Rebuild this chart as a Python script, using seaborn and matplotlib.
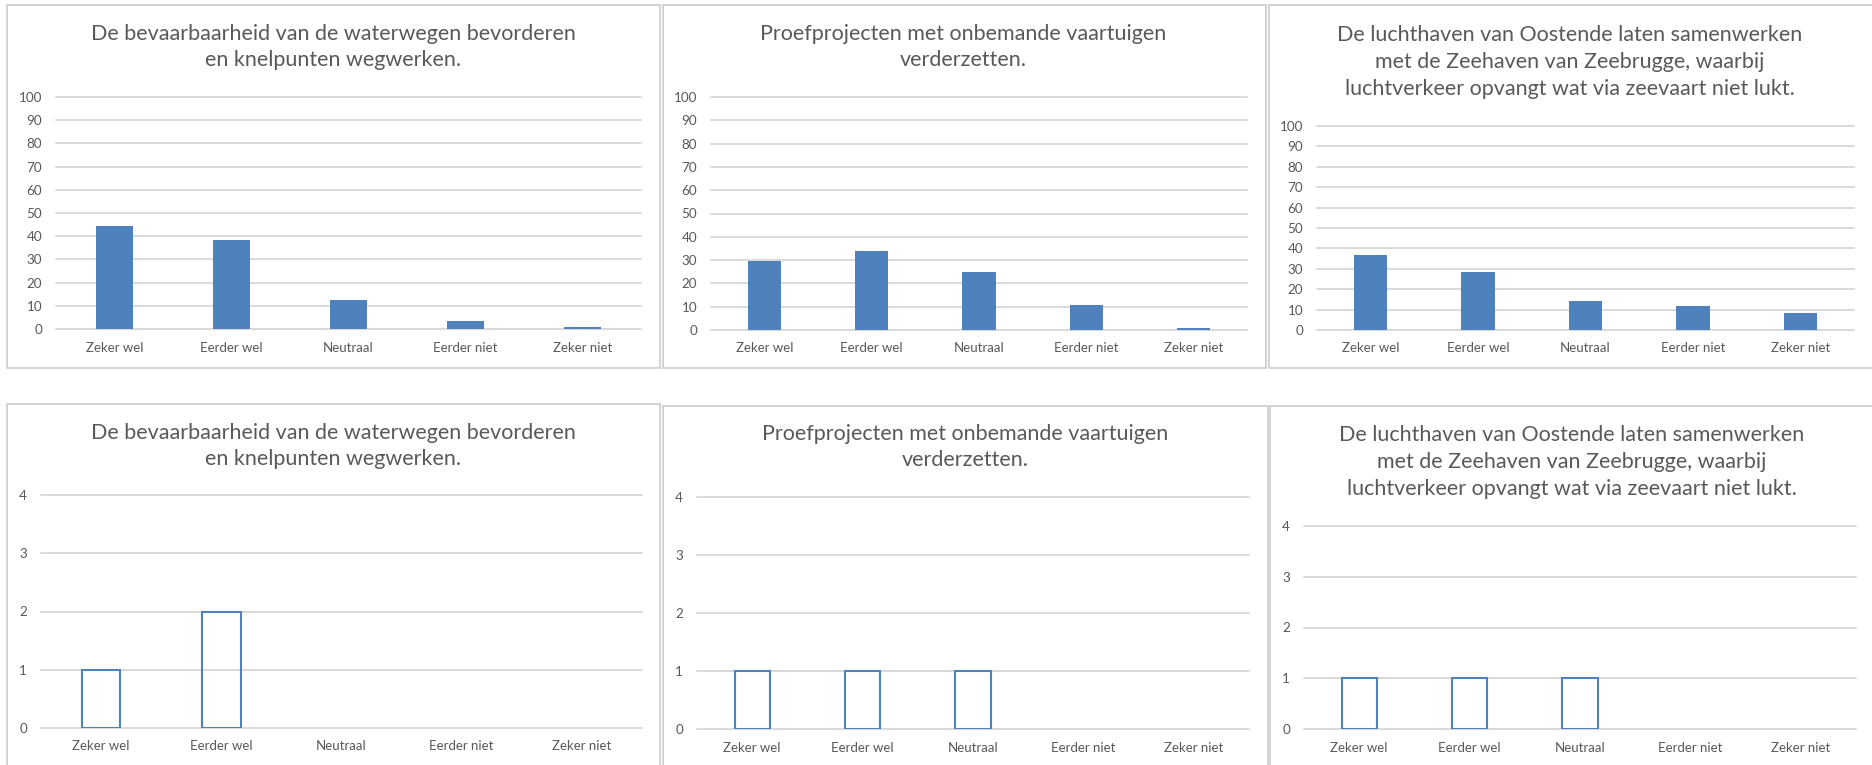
import matplotlib
matplotlib.use("Agg")
import matplotlib.pyplot as plt
from matplotlib.patches import Rectangle
import seaborn as sns
import pandas as pd

# ---------------- data ----------------
categories = ["Zeker wel", "Eerder wel", "Neutraal", "Eerder niet", "Zeker niet"]

title_waterwegen = "De bevaarbaarheid van de waterwegen bevorderen\nen knelpunten wegwerken."
title_vaartuigen = "Proefprojecten met onbemande vaartuigen\nverderzetten."
title_luchthaven = ("De luchthaven van Oostende laten samenwerken\n"
                    "met de Zeehaven van Zeebrugge, waarbij\n"
                    "luchtverkeer opvangt wat via zeevaart niet lukt.")

pct_waterwegen = [44.5, 38.5, 12.5, 3.5, 1.0]
pct_vaartuigen = [29.4, 33.7, 25.1, 10.7, 0.8]
pct_luchthaven = [36.8, 28.6, 14.2, 11.8, 8.2]

cnt_waterwegen = [1, 2, 0, 0, 0]
cnt_vaartuigen = [1, 1, 1, 0, 0]
cnt_luchthaven = [1, 1, 1, 0, 0]

pct_ticks = [0, 10, 20, 30, 40, 50, 60, 70, 80, 90, 100]
cnt_ticks = [0, 1, 2, 3, 4]

# ---------------- style ----------------
sns.set_theme(style="white")
plt.rcParams["font.family"] = ["Lato", "DejaVu Sans"]

BLUE = "#4f81bd"
TEXT = "#595959"
GRID = "#d9d9d9"
BORDER = "#d3d3d3"

W, H = 1872, 765
fig = plt.figure(figsize=(W / 100, H / 100), dpi=100)
fig.patch.set_facecolor("white")


def ax_rect(x0, x1, ytop, ybot):
    return [x0 / W, 1 - ybot / H, (x1 - x0) / W, (ybot - ytop) / H]


panels = [
    # title, values, ticks, filled, axes(x0,x1,ytop,ybot), box(x0,x1,y0,y1), title(cx, cy)
    (title_waterwegen, pct_waterwegen, pct_ticks, True, (56, 641, 97, 329), (7, 660, 5, 368), (333, 47)),
    (title_vaartuigen, pct_vaartuigen, pct_ticks, True, (711, 1247, 97, 330), (663, 1266, 5, 368), (963, 47)),
    (title_luchthaven, pct_luchthaven, pct_ticks, True, (1317, 1854, 126, 330), (1269, 1880, 5, 368), (1570, 62)),
    (title_waterwegen, cnt_waterwegen, cnt_ticks, False, (41, 642, 495, 728), (7, 660, 404, 800), (333, 446)),
    (title_vaartuigen, cnt_vaartuigen, cnt_ticks, False, (697, 1249, 497, 729), (663, 1268, 406, 800), (965, 447)),
    (title_luchthaven, cnt_luchthaven, cnt_ticks, False, (1304, 1856, 526, 729), (1270, 1880, 406, 800), (1572, 462)),
]

for title, vals, ticks, filled, axr, box, tpos in panels:
    # panel frame
    bx0, bx1, by0, by1 = box
    fig.add_artist(Rectangle((bx0 / W, 1 - by1 / H), (bx1 - bx0) / W, (by1 - by0) / H,
                             transform=fig.transFigure, fill=False,
                             edgecolor=BORDER, linewidth=1.4, zorder=0))

    ax = fig.add_axes(ax_rect(*axr))
    df = pd.DataFrame({"cat": categories, "val": vals})
    if filled:
        sns.barplot(data=df, x="cat", y="val", order=categories, color=BLUE,
                    saturation=1, width=0.31, linewidth=0, ax=ax, zorder=3)
    else:
        sns.barplot(data=df, x="cat", y="val", order=categories, color=BLUE,
                    saturation=1, width=0.32, fill=False, linewidth=1.5, ax=ax, zorder=3)
        for p in ax.patches:
            p.set_facecolor("none")
            p.set_edgecolor(BLUE)
            if p.get_height() == 0:
                p.set_visible(False)

    ax.set_xlim(-0.5, 4.5)
    ax.set_ylim(ticks[0], ticks[-1])
    ax.set_yticks(ticks)
    ax.set_yticklabels([str(t) for t in ticks])
    ax.set_xlabel("")
    ax.set_ylabel("")
    ax.set_facecolor("none")
    for s in ax.spines.values():
        s.set_visible(False)
    ax.grid(axis="y", color=GRID, linewidth=1.4)
    ax.grid(axis="x", visible=False)
    ax.set_axisbelow(True)
    for gl in ax.get_ygridlines():
        gl.set_clip_on(False)
    ax.tick_params(axis="y", length=0, pad=10, labelsize=9.7, labelcolor=TEXT)
    ax.tick_params(axis="x", length=0, pad=9, labelsize=9.5, labelcolor=TEXT)

    fig.text(tpos[0] / W, 1 - tpos[1] / H, title, ha="center", va="center",
             fontsize=15.5, color=TEXT, linespacing=1.42)

fig.savefig("out.png", dpi=100, facecolor="white")
